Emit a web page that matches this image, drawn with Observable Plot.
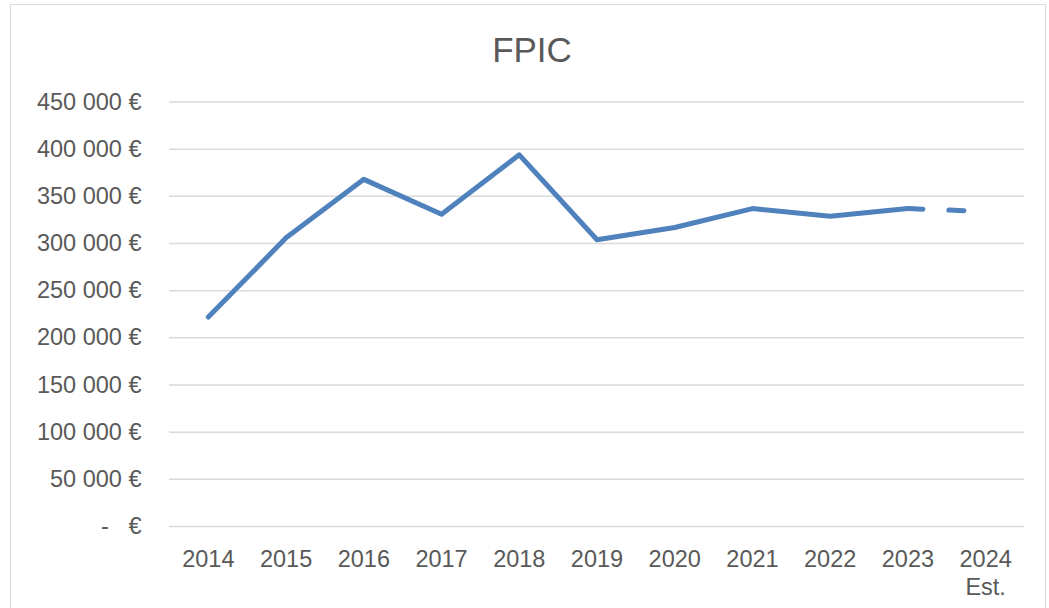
<!DOCTYPE html>
<html>
<head>
<meta charset="utf-8">
<script src="https://cdn.jsdelivr.net/npm/d3@7"></script>
<script src="https://cdn.jsdelivr.net/npm/@observablehq/plot@0.6"></script>
<style>
  html, body { margin: 0; padding: 0; background: #fff; }
  #wrap { position: relative; width: 1049px; height: 608px; overflow: hidden; font-family: "Liberation Sans", Arial, sans-serif; }
  #border { position: absolute; left: 10px; top: 4px; width: 1036px; height: 640px; border: 1.5px solid #d9d9d9; box-sizing: border-box; }
  #title { position: absolute; left: 0; top: 32px; width: 1064px; text-align: center; font-size: 35px; line-height: 35px; color: #595959; }
  #chart { position: absolute; left: 0; top: 0; }
</style>
</head>
<body>
<div id="wrap">
  <div id="border"></div>
  <div id="title">FPIC</div>
  <div id="chart"></div>
</div>
<script>
const years = ["2014","2015","2016","2017","2018","2019","2020","2021","2022","2023","2024"];
const yearLabels = ["2014","2015","2016","2017","2018","2019","2020","2021","2022","2023","2024\nEst."];
const values = [222000, 306000, 368000, 331000, 394000, 304000, 317000, 337000, 329000, 337000, 334000];
const yTicks = [0, 50000, 100000, 150000, 200000, 250000, 300000, 350000, 400000, 450000];

const data = years.map((y, i) => ({year: y, value: values[i]}));
const actual = data.slice(0, 10);
const estimate = data.slice(9);

const fmtY = v => v === 0 ? "-\u00a0\u00a0\u00a0€" : d3.format(",")(v).replace(/,/g, " ") + " €";
const labelOf = Object.fromEntries(years.map((y, i) => [y, yearLabels[i]]));

const plot = Plot.plot({
  width: 1049,
  height: 608,
  marginLeft: 169,
  marginRight: 25,
  marginTop: 101.5,
  marginBottom: 82,
  style: {fontFamily: "'Liberation Sans', Arial, sans-serif", fontSize: "23.5px", color: "#595959", background: "transparent"},
  x: {type: "point", domain: years, padding: 0.5, round: false},
  y: {domain: [0, 450000]},
  marks: [
    Plot.ruleY(yTicks, {stroke: "#d9d9d9", strokeWidth: 1.5}),
    Plot.axisY({ticks: yTicks, tickFormat: fmtY, tickSize: 0, tickPadding: 28, label: null, fill: "#595959", fontSize: 23.5}),
    Plot.axisX({tickFormat: d => labelOf[d], tickSize: 0, tickPadding: 20, label: null, fill: "#595959", fontSize: 23.5, lineHeight: 1.2}),
    Plot.line(actual, {x: "year", y: "value", stroke: "#4f81bd", strokeWidth: 5, strokeLinecap: "round", strokeLinejoin: "round"}),
    Plot.line(estimate, {x: "year", y: "value", stroke: "#4f81bd", strokeWidth: 5, strokeLinecap: "round", strokeDasharray: "15,26"})
  ]
});
document.getElementById("chart").appendChild(plot);
</script>
</body>
</html>
